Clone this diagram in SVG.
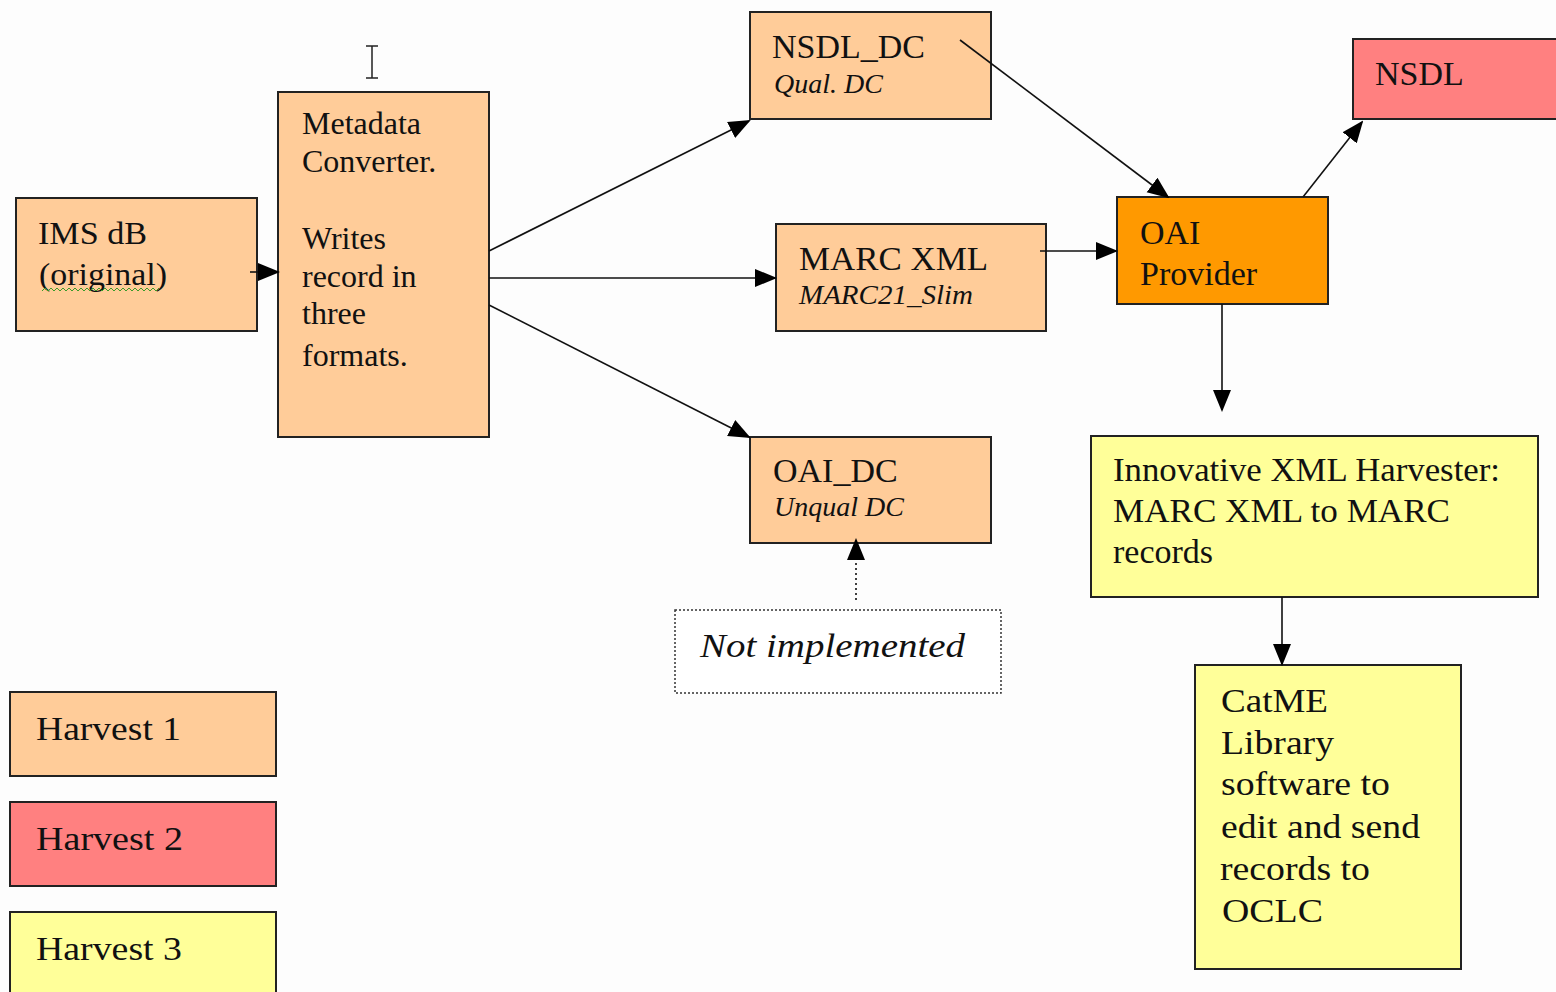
<svg xmlns="http://www.w3.org/2000/svg" width="1556" height="992" viewBox="0 0 1556 992">
<style>
.box{stroke:#222;stroke-width:2}
.h1{fill:#FFCC99}.h2{fill:#FF8080}.h3{fill:#FFFF99}.prov{fill:#FF9900}
text{font-family:"Liberation Serif","Times New Roman",serif;fill:#111;font-size:32px}
.it{font-style:italic;font-size:28px}
.big{font-size:34px}
.conn{stroke:#111;stroke-width:1.6;fill:none}
</style>
<defs>
<marker id="ahb" markerWidth="22" markerHeight="22" refX="20" refY="11" orient="auto" markerUnits="userSpaceOnUse" viewBox="0 0 22 22">
<path d="M0,2 L22,11 L0,20 z" fill="#000"/>
</marker>
</defs>
<rect width="1556" height="992" fill="#FDFDFD"/>
<!-- text cursor artifact -->
<path d="M366,46 H378 M372,46 V78 M366,78 H378" stroke="#222" stroke-width="1.5" fill="none"/>

<g id="ims">
<rect class="box h1" x="16" y="198" width="241" height="133"/>
<text x="38" y="244" textLength="109" lengthAdjust="spacingAndGlyphs">IMS dB</text>
<text x="39" y="285" textLength="128" lengthAdjust="spacingAndGlyphs">(original)</text>
<path d="M42,291 l3,-3 l3,3 l3,-3 l3,3 l3,-3 l3,3 l3,-3 l3,3 l3,-3 l3,3 l3,-3 l3,3 l3,-3 l3,3 l3,-3 l3,3 l3,-3 l3,3 l3,-3 l3,3 l3,-3 l3,3 l3,-3 l3,3 l3,-3 l3,3 l3,-3 l3,3 l3,-3 l3,3 l3,-3 l3,3 l3,-3 l3,3 l3,-3 l3,3 l3,-3 l3,3 l3,-3" stroke="#3a9a2a" stroke-width="1" fill="none"/>
</g>

<g id="converter">
<rect class="box h1" x="278" y="92" width="211" height="345"/>
<text x="302" y="134">Metadata</text>
<text x="302" y="172">Converter.</text>
<text x="302" y="249">Writes</text>
<text x="302" y="287">record in</text>
<text x="302" y="324">three</text>
<text x="302" y="366">formats.</text>
</g>

<g id="nsdl_dc">
<rect class="box h1" x="750" y="12" width="241" height="107"/>
<text x="772" y="58" class="big">NSDL_DC</text>
<text x="774" y="93" class="it">Qual. DC</text>
</g>

<g id="marcxml">
<rect class="box h1" x="776" y="224" width="270" height="107"/>
<text x="799" y="270" class="big" textLength="189" lengthAdjust="spacingAndGlyphs">MARC XML</text>
<text x="799" y="304" class="it" textLength="174" lengthAdjust="spacingAndGlyphs">MARC21_Slim</text>
</g>

<g id="oai_dc">
<rect class="box h1" x="750" y="437" width="241" height="106"/>
<text x="773" y="482" class="big">OAI_DC</text>
<text x="774" y="516" class="it">Unqual DC</text>
</g>

<g id="oai_provider">
<rect class="box prov" x="1117" y="197" width="211" height="107"/>
<text x="1140" y="244" class="big">OAI</text>
<text x="1140" y="285" class="big">Provider</text>
</g>

<g id="nsdl">
<rect class="box h2" x="1353" y="39" width="210" height="80"/>
<text x="1375" y="85" class="big">NSDL</text>
</g>

<g id="harvester">
<rect class="box h3" x="1091" y="436" width="447" height="161"/>
<text x="1113" y="481" class="big" textLength="387" lengthAdjust="spacingAndGlyphs">Innovative XML Harvester:</text>
<text x="1113" y="522" class="big" textLength="337" lengthAdjust="spacingAndGlyphs">MARC XML to MARC</text>
<text x="1113" y="563" class="big">records</text>
</g>

<g id="catme">
<rect class="box h3" x="1195" y="665" width="266" height="304"/>
<text x="1221" y="712" class="big" textLength="107" lengthAdjust="spacingAndGlyphs">CatME</text>
<text x="1221" y="754" class="big" textLength="113" lengthAdjust="spacingAndGlyphs">Library</text>
<text x="1221" y="795" class="big" textLength="169" lengthAdjust="spacingAndGlyphs">software to</text>
<text x="1221" y="838" class="big" textLength="199" lengthAdjust="spacingAndGlyphs">edit and send</text>
<text x="1220" y="880" class="big" textLength="150" lengthAdjust="spacingAndGlyphs">records to</text>
<text x="1222" y="922" class="big" textLength="101" lengthAdjust="spacingAndGlyphs">OCLC</text>
</g>

<g id="not_implemented">
<rect x="675" y="610" width="326" height="83" fill="#FFFFFF" stroke="#333" stroke-width="1.5" stroke-dasharray="2,2"/>
<text x="700" y="657" class="it" style="font-size:34px" textLength="265" lengthAdjust="spacingAndGlyphs">Not implemented</text>
</g>

<g id="legend">
<g id="harvest1"><rect class="box h1" x="10" y="692" width="266" height="84"/><text x="36" y="740" class="big" textLength="145" lengthAdjust="spacingAndGlyphs">Harvest 1</text></g>
<g id="harvest2"><rect class="box h2" x="10" y="802" width="266" height="84"/><text x="36" y="850" class="big" textLength="147" lengthAdjust="spacingAndGlyphs">Harvest 2</text></g>
<g id="harvest3"><rect class="box h3" x="10" y="912" width="266" height="90"/><text x="36" y="960" class="big" textLength="146" lengthAdjust="spacingAndGlyphs">Harvest 3</text></g>
</g>

<g id="connectors">
<line class="conn" x1="250" y1="272" x2="278" y2="272" marker-end="url(#ahb)"/>
<line class="conn" x1="489" y1="251" x2="749" y2="121" marker-end="url(#ahb)"/>
<line class="conn" x1="489" y1="278" x2="775" y2="278" marker-end="url(#ahb)"/>
<line class="conn" x1="489" y1="305" x2="749" y2="437" marker-end="url(#ahb)"/>
<line class="conn" x1="960" y1="40" x2="1168" y2="197" marker-end="url(#ahb)"/>
<line class="conn" x1="1040" y1="251" x2="1116" y2="251" marker-end="url(#ahb)"/>
<line class="conn" x1="1303" y1="197" x2="1362" y2="122" marker-end="url(#ahb)"/>
<line class="conn" x1="1222" y1="304" x2="1222" y2="410" marker-end="url(#ahb)"/>
<line class="conn" x1="1282" y1="597" x2="1282" y2="664" marker-end="url(#ahb)"/>
<line class="conn" x1="856" y1="600" x2="856" y2="540" stroke-dasharray="2,3" marker-end="url(#ahb)"/>
</g>
</svg>
